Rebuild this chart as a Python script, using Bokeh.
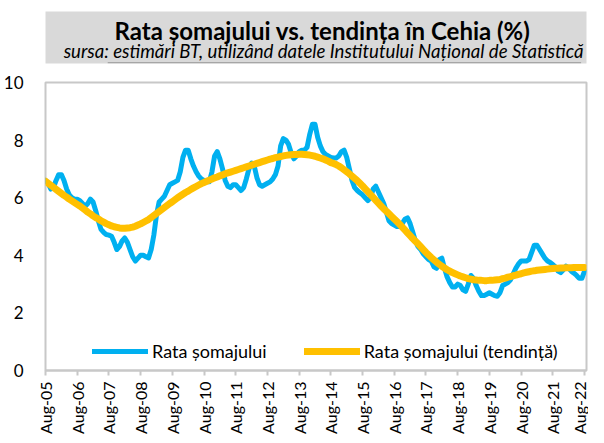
import numpy as np
from bokeh.plotting import figure
from bokeh.models import Range1d, FixedTicker, Legend, BoxAnnotation, Label
from bokeh.layouts import column
from bokeh.embed import file_html
from bokeh.resources import INLINE

title_text = "Rata șomajului vs. tendința în Cehia (%)"
subtitle_text = "sursa: estimări BT, utilizând datele Institutului Național de Statistică"

# monthly data, Aug-05 .. Aug-22
tick_labels = ["Aug-05", "Aug-06", "Aug-07", "Aug-08", "Aug-09", "Aug-10", "Aug-11", "Aug-12",
               "Aug-13", "Aug-14", "Aug-15", "Aug-16", "Aug-17", "Aug-18", "Aug-19", "Aug-20",
               "Aug-21", "Aug-22"]

rata = [
    6.6, 6.5, 6.3, 6.35, 6.6, 6.8, 6.8, 6.6, 6.3, 6.1, 6.0, 5.95,
    5.95, 5.9, 5.8, 5.7, 5.8, 5.95, 5.85, 5.55, 5.2, 4.9, 4.8, 4.72,
    4.7, 4.66, 4.45, 4.2, 4.3, 4.5, 4.6, 4.45, 4.2, 3.95, 3.8, 3.9,
    4.0, 4.0, 3.95, 3.91, 4.2, 4.7, 5.4, 5.85, 5.95, 6.05, 6.25, 6.45,
    6.5, 6.55, 6.6, 6.9, 7.4, 7.65, 7.65, 7.35, 7.1, 6.9, 6.75, 6.65,
    6.6, 6.55, 6.55, 6.9, 7.45, 7.6, 7.35, 7.0, 6.6, 6.4, 6.35, 6.45,
    6.45, 6.35, 6.25, 6.35, 6.65, 7.0, 7.2, 7.1, 6.7, 6.45, 6.4, 6.45,
    6.5, 6.55, 6.65, 6.8, 7.1, 7.8, 8.05, 8.0, 7.85, 7.55, 7.35, 7.45,
    7.6, 7.65, 7.65, 7.75, 8.2, 8.55, 8.55, 8.1, 7.8, 7.6, 7.5, 7.45,
    7.4, 7.38, 7.38, 7.45, 7.6, 7.65, 7.4, 7.0, 6.6, 6.35, 6.25, 6.17,
    6.1, 6.0, 5.9, 6.0, 6.3, 6.4, 6.2, 6.0, 5.8, 5.5, 5.2, 5.1,
    5.05, 5.0, 5.0, 5.1, 5.25, 5.3, 5.1, 4.8, 4.5, 4.3, 4.2, 4.05,
    3.95, 3.85, 3.8, 3.6, 3.55, 3.85, 3.9, 3.55, 3.25, 3.05, 2.9, 2.9,
    3.0, 2.95, 2.8, 2.75, 3.0, 3.3, 3.2, 2.95, 2.75, 2.6, 2.6, 2.65,
    2.7, 2.65, 2.6, 2.58, 2.7, 2.95, 3.0, 3.05, 3.15, 3.35, 3.55, 3.7,
    3.8, 3.8, 3.8, 3.85, 4.1, 4.35, 4.35, 4.2, 4.05, 3.9, 3.8, 3.75,
    3.68, 3.6, 3.45, 3.4, 3.5, 3.62, 3.55, 3.45, 3.38, 3.3, 3.2, 3.2,
    3.45,
]

tendinta = [
    6.57, 6.5, 6.43, 6.36, 6.29, 6.22, 6.15, 6.08, 6.02, 5.95, 5.89, 5.83,
    5.77, 5.71, 5.64, 5.57, 5.5, 5.44, 5.37, 5.31, 5.26, 5.2, 5.15, 5.1,
    5.06, 5.02, 4.99, 4.97, 4.95, 4.94, 4.94, 4.95, 4.96, 4.98, 5.01, 5.05,
    5.09, 5.14, 5.19, 5.24, 5.31, 5.38, 5.45, 5.52, 5.59, 5.66, 5.73, 5.8,
    5.86, 5.93, 6.0, 6.06, 6.12, 6.18, 6.23, 6.29, 6.34, 6.39, 6.44, 6.49,
    6.53, 6.57, 6.61, 6.65, 6.69, 6.72, 6.76, 6.79, 6.83, 6.86, 6.89, 6.92,
    6.95, 6.98, 7.01, 7.04, 7.07, 7.1, 7.13, 7.16, 7.19, 7.22, 7.25, 7.28,
    7.31, 7.34, 7.36, 7.39, 7.41, 7.43, 7.45, 7.47, 7.48, 7.49, 7.5, 7.5,
    7.51, 7.51, 7.5, 7.49, 7.48, 7.46, 7.44, 7.41, 7.38, 7.35, 7.31, 7.27,
    7.22, 7.19, 7.15, 7.1, 7.04, 6.97, 6.9, 6.83, 6.75, 6.67, 6.59, 6.5,
    6.41, 6.31, 6.21, 6.11, 6.01, 5.91, 5.81, 5.71, 5.62, 5.53, 5.44, 5.35,
    5.26, 5.17, 5.08, 4.98, 4.88, 4.78, 4.68, 4.58, 4.49, 4.4, 4.3, 4.2,
    4.1, 4.01, 3.92, 3.84, 3.76, 3.69, 3.62, 3.56, 3.5, 3.45, 3.4, 3.36,
    3.32, 3.28, 3.25, 3.22, 3.19, 3.17, 3.15, 3.14, 3.13, 3.13, 3.12, 3.12,
    3.13, 3.13, 3.14, 3.15, 3.16, 3.19, 3.21, 3.24, 3.26, 3.29, 3.31, 3.34,
    3.36, 3.39, 3.41, 3.43, 3.45, 3.46, 3.48, 3.49, 3.5, 3.51, 3.52, 3.53,
    3.54, 3.55, 3.55, 3.56, 3.56, 3.57, 3.57, 3.57, 3.58, 3.58, 3.58, 3.58,
    3.58,
]

x = np.arange(len(rata))
tick_pos = [12 * i for i in range(len(tick_labels))]

FONT = "Lato"

# ---- header (gray band with title and subtitle) ----
h = figure(output_backend="svg", toolbar_location=None, width=588, height=69,
           min_border_left=5, min_border_right=1, min_border_top=11, min_border_bottom=6,
           x_range=Range1d(0, 1), y_range=Range1d(0, 1), x_axis_location=None, y_axis_location=None)
h.background_fill_color = "#D9D9D9"
h.outline_line_color = None
h.xgrid.visible = False
h.ygrid.visible = False
h.add_layout(BoxAnnotation(left=0.115, right=0.99, bottom=0, top=0.03,
                           fill_color="#A6A6A6", fill_alpha=1, line_color=None))
h.add_layout(Label(x=0.512, y=0.635, text=title_text,
                   text_align="center", text_baseline="alphabetic", text_font=FONT,
                   text_font_style="bold", text_font_size="24px", text_color="#000000"))
h.add_layout(Label(x=0.514, y=0.235, text=subtitle_text,
                   text_align="center", text_baseline="alphabetic", text_font=FONT,
                   text_font_style="italic", text_font_size="18.6px", text_color="#000000"))

# ---- main chart ----
p = figure(output_backend="svg", toolbar_location=None,
           width=588, height=367,
           min_border_left=37, min_border_right=2, min_border_top=13, min_border_bottom=66,
           x_range=Range1d(0, 204.75), y_range=Range1d(0, 10))

p.outline_line_color = "#C8C8C8"
p.outline_line_width = 2
p.xgrid.visible = False
p.ygrid.visible = False

p.yaxis.ticker = FixedTicker(ticks=[0, 2, 4, 6, 8, 10])
p.yaxis.axis_line_color = None
p.yaxis.major_tick_line_color = None
p.yaxis.minor_tick_line_color = None
p.yaxis.major_label_standoff = 16
p.yaxis.major_label_text_font = FONT
p.yaxis.major_label_text_font_size = "17px"
p.yaxis.major_label_text_color = "#000000"

p.xaxis.ticker = FixedTicker(ticks=tick_pos)
p.xaxis.major_label_overrides = {t: lab for t, lab in zip(tick_pos, tick_labels)}
p.xaxis.major_label_orientation = np.pi / 2
p.xaxis.axis_line_color = "#C8C8C8"
p.xaxis.axis_line_width = 2
p.xaxis.major_tick_line_color = "#C8C8C8"
p.xaxis.major_tick_line_width = 2
p.xaxis.major_tick_out = 5
p.xaxis.major_tick_in = 0
p.xaxis.minor_tick_line_color = None
p.xaxis.major_label_standoff = 6
p.xaxis.major_label_text_font = FONT
p.xaxis.major_label_text_font_size = "16px"
p.xaxis.major_label_text_color = "#000000"

r1 = p.line(x, rata, line_color="#00B0F0", line_width=5, line_join="round", line_cap="round")
r2 = p.line(x, tendinta, line_color="#FFC000", line_width=7, line_join="round", line_cap="round")

legend = Legend(items=[("Rata șomajului", [r1]), ("Rata șomajului (tendință)", [r2])],
                orientation="horizontal", location=(47, 8),
                border_line_alpha=0, background_fill_alpha=0,
                label_text_font=FONT, label_text_font_size="18px", label_text_color="#000000",
                glyph_width=56, glyph_height=20, label_height=20,
                label_standoff=4, spacing=37, padding=0, margin=0)
p.add_layout(legend)

layout = column(h, p, spacing=0)
open("out.html", "w").write(file_html(layout, INLINE))
